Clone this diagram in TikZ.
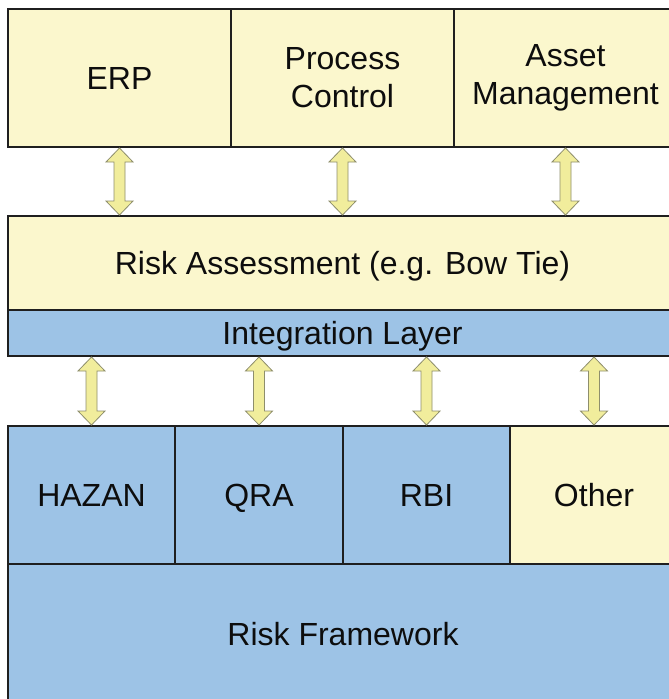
\documentclass[tikz,border=0pt]{standalone}
\usepackage{fontspec}
\setmainfont{Liberation Sans}
\usetikzlibrary{calc}
\definecolor{ylw}{HTML}{FBF7CD}
\definecolor{blu}{HTML}{9DC3E6}
\definecolor{arrfill}{HTML}{F1ED9C}
\definecolor{arrline}{HTML}{8E8E6C}
\newcommand\vdarrow[2]{%
  \path[arrsty] let \p1=(#1), \p2=(#2) in
    (\x1,\y1) -- (\x1+13.5pt,\y1-14pt) -- (\x1+5.5pt,\y1-14pt)
    -- (\x1+5.5pt,\y2+14pt) -- (\x1+13.5pt,\y2+14pt) -- (\x1,\y2)
    -- (\x1-13.5pt,\y2+14pt) -- (\x1-5.5pt,\y2+14pt)
    -- (\x1-5.5pt,\y1-14pt) -- (\x1-13.5pt,\y1-14pt) -- cycle;}
\begin{document}
\begin{tikzpicture}[x=1pt,y=-1pt,
  box/.style={draw=black!88, line width=2pt, rectangle, inner sep=0pt,
    font=\fontsize{32}{38}\selectfont, align=center, text=black!95},
  sl/.style={text height=23pt, text depth=0pt},
  ybox/.style={box, fill=ylw},
  bbox/.style={box, fill=blu},
  topcol/.style={minimum width=223pt, minimum height=138pt},
  botcol/.style={minimum width=167.5pt, minimum height=138pt, sl},
  arrsty/.style={fill=arrfill, draw=arrline, line width=0.8pt, line join=miter}]
\path[use as bounding box] (0,0) rectangle (669,699);
\fill[white] (0,0) rectangle (669,699);
% top row
\node[ybox, topcol, sl] (erp) at (119.5,78) {ERP};
\node[ybox, topcol] (pc) at (342.5,78) {Process\\Control};
\node[ybox, topcol] (am) at (565.5,78) {Asset\\Management};
% middle
\node[ybox, sl, minimum width=669pt, minimum height=94pt] (ra) at (342.5,263) {Risk Assessment (e.g. Bow Tie)};
\node[bbox, sl, minimum width=669pt, minimum height=46pt] (il) at (342.5,333) {Integration Layer};
% bottom row
\node[bbox, botcol] (hazan) at (91.5,495) {HAZAN};
\node[bbox, botcol] (qra) at (259,495) {QRA};
\node[bbox, botcol] (rbi) at (426.5,495) {RBI};
\node[ybox, botcol] (other) at (594,495) {Other};
\node[bbox, sl, minimum width=670pt, minimum height=140pt] (rf) at (343,634) {Risk Framework};
% arrows
\vdarrow{erp.south}{erp.south |- ra.north}
\vdarrow{pc.south}{pc.south |- ra.north}
\vdarrow{am.south}{am.south |- ra.north}
\vdarrow{hazan.north |- il.south}{hazan.north}
\vdarrow{qra.north |- il.south}{qra.north}
\vdarrow{rbi.north |- il.south}{rbi.north}
\vdarrow{other.north |- il.south}{other.north}
\end{tikzpicture}
\end{document}
